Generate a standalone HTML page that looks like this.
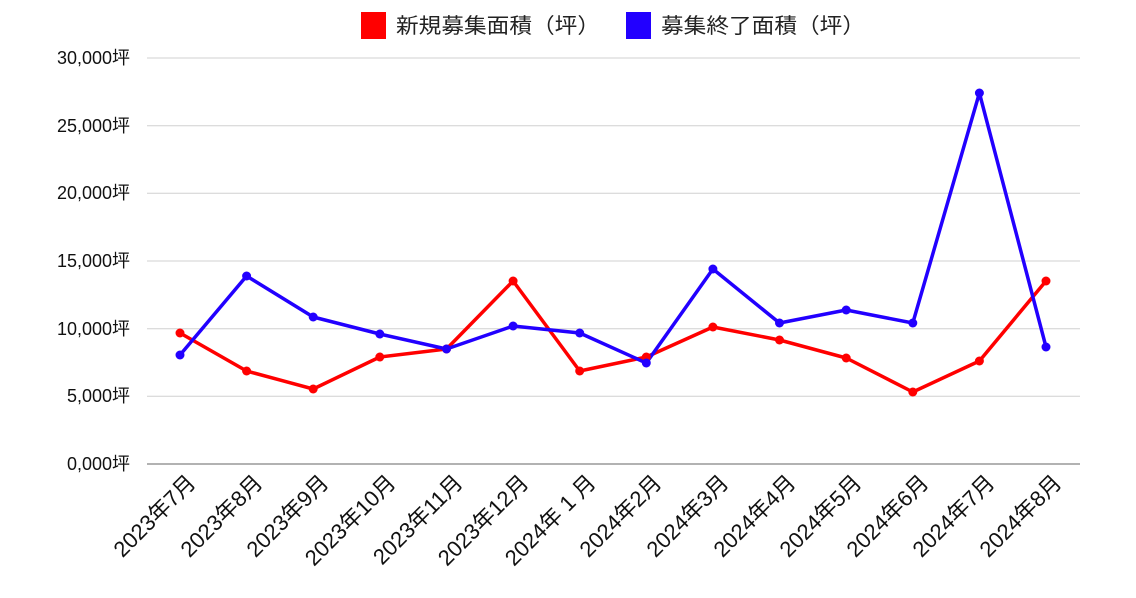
<!DOCTYPE html>
<html><head><meta charset="utf-8"><style>
html,body{margin:0;padding:0;background:#fff;}
svg{display:block;font-family:"Liberation Sans","Noto Sans CJK JP",sans-serif;}
</style></head><body>
<svg width="1136" height="598" viewBox="0 0 1136 598" xmlns="http://www.w3.org/2000/svg">
<rect x="361" y="12" width="25" height="27" fill="#ff0000"/>
<text x="396" y="33" font-size="21" fill="#222" textLength="204" lengthAdjust="spacingAndGlyphs">新規募集面積（坪）</text>
<rect x="626" y="12" width="25" height="27" fill="#2200ff"/>
<text x="661" y="33" font-size="21" fill="#222" textLength="204" lengthAdjust="spacingAndGlyphs">募集終了面積（坪）</text>
<g stroke="#d0d0d0" stroke-width="1">
<line x1="147" y1="58" x2="1080" y2="58"/>
<line x1="147" y1="125.7" x2="1080" y2="125.7"/>
<line x1="147" y1="193.3" x2="1080" y2="193.3"/>
<line x1="147" y1="261" x2="1080" y2="261"/>
<line x1="147" y1="328.7" x2="1080" y2="328.7"/>
<line x1="147" y1="396.3" x2="1080" y2="396.3"/>
</g>
<line x1="147" y1="464" x2="1080" y2="464" stroke="#999" stroke-width="1.5"/>
<g font-size="18" fill="#111" text-anchor="end">
<text x="130" y="64">30,000坪</text>
<text x="130" y="132">25,000坪</text>
<text x="130" y="199">20,000坪</text>
<text x="130" y="267">15,000坪</text>
<text x="130" y="335">10,000坪</text>
<text x="130" y="402">5,000坪</text>
<text x="130" y="470">0,000坪</text>
</g>
<g font-size="22" fill="#111" text-anchor="end">
<text transform="translate(197,484) rotate(-45)">2023年7月</text>
<text transform="translate(264,484) rotate(-45)">2023年8月</text>
<text transform="translate(330,484) rotate(-45)">2023年9月</text>
<text transform="translate(397,484) rotate(-45)">2023年10月</text>
<text transform="translate(464,484) rotate(-45)">2023年11月</text>
<text transform="translate(530,484) rotate(-45)">2023年12月</text>
<text transform="translate(597,484) rotate(-45)">2024年 1 月</text>
<text transform="translate(663,484) rotate(-45)">2024年2月</text>
<text transform="translate(730,484) rotate(-45)">2024年3月</text>
<text transform="translate(797,484) rotate(-45)">2024年4月</text>
<text transform="translate(863,484) rotate(-45)">2024年5月</text>
<text transform="translate(930,484) rotate(-45)">2024年6月</text>
<text transform="translate(996,484) rotate(-45)">2024年7月</text>
<text transform="translate(1063,484) rotate(-45)">2024年8月</text>
</g>
<polyline fill="none" stroke="#ff0000" stroke-width="3.5" stroke-linejoin="round" points="180,333 246.6,371 313.2,389 379.8,357 446.5,349 513.1,281 579.7,371 646.3,357 712.9,327 779.5,340 846.2,358 912.8,392 979.4,361 1046,281"/>
<polyline fill="none" stroke="#2200ff" stroke-width="3.5" stroke-linejoin="round" points="180,355 246.6,276 313.2,317 379.8,334 446.5,349 513.1,326 579.7,333 646.3,363 712.9,269 779.5,323 846.2,310 912.8,323 979.4,93 1046,347"/>
<g fill="#ff0000">
<circle cx="180" cy="333" r="4.5"/><circle cx="246.6" cy="371" r="4.5"/><circle cx="313.2" cy="389" r="4.5"/><circle cx="379.8" cy="357" r="4.5"/><circle cx="446.5" cy="349" r="4.5"/><circle cx="513.1" cy="281" r="4.5"/><circle cx="579.7" cy="371" r="4.5"/><circle cx="646.3" cy="357" r="4.5"/><circle cx="712.9" cy="327" r="4.5"/><circle cx="779.5" cy="340" r="4.5"/><circle cx="846.2" cy="358" r="4.5"/><circle cx="912.8" cy="392" r="4.5"/><circle cx="979.4" cy="361" r="4.5"/><circle cx="1046" cy="281" r="4.5"/>
</g>
<g fill="#2200ff">
<circle cx="180" cy="355" r="4.5"/><circle cx="246.6" cy="276" r="4.5"/><circle cx="313.2" cy="317" r="4.5"/><circle cx="379.8" cy="334" r="4.5"/><circle cx="446.5" cy="349" r="4.5"/><circle cx="513.1" cy="326" r="4.5"/><circle cx="579.7" cy="333" r="4.5"/><circle cx="646.3" cy="363" r="4.5"/><circle cx="712.9" cy="269" r="4.5"/><circle cx="779.5" cy="323" r="4.5"/><circle cx="846.2" cy="310" r="4.5"/><circle cx="912.8" cy="323" r="4.5"/><circle cx="979.4" cy="93" r="4.5"/><circle cx="1046" cy="347" r="4.5"/>
</g>
</svg>
</body></html>
